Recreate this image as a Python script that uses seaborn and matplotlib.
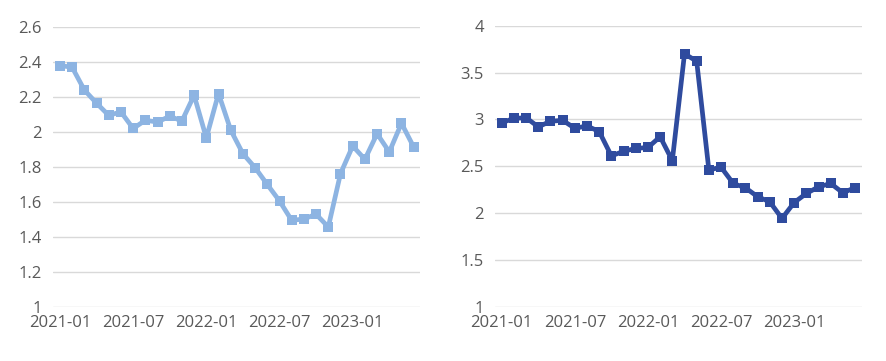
import pandas as pd
import seaborn as sns
import matplotlib.pyplot as plt

months = pd.date_range("2021-01-01", periods=30, freq="MS").strftime("%Y-%m").tolist()

left_vals = [2.38, 2.37, 2.24, 2.165, 2.095, 2.115, 2.02, 2.067, 2.057, 2.09,
             2.063, 2.21, 1.966, 2.22, 2.011, 1.876, 1.796, 1.70, 1.606, 1.495,
             1.503, 1.53, 1.457, 1.762, 1.92, 1.844, 1.99, 1.886, 2.05, 1.914]

right_vals = [2.965, 3.01, 3.018, 2.92, 2.98, 2.99, 2.905, 2.93, 2.87, 2.61,
              2.66, 2.69, 2.70, 2.815, 2.56, 3.70, 3.62, 2.46, 2.49, 2.316,
              2.27, 2.175, 2.12, 1.943, 2.113, 2.21, 2.28, 2.316, 2.216, 2.273]

tick_labels = ["2021-01", "2021-07", "2022-01", "2022-07", "2023-01"]

df = pd.DataFrame({"month": months, "left": left_vals, "right": right_vals})
df["pos"] = range(len(df))

sns.set_style("white")
plt.rcParams["font.family"] = ["Open Sans", "DejaVu Sans"]

fig = plt.figure(figsize=(8.86, 3.61), dpi=100)
ax1 = fig.add_axes([0.0598, 0.1496, 0.414, 0.7756])
ax2 = fig.add_axes([0.5587, 0.150, 0.414, 0.779])

panels = [
    (ax1, "left", "#8db4e2", (1, 2.6), [1, 1.2, 1.4, 1.6, 1.8, 2, 2.2, 2.4, 2.6], (-0.57, 29.5)),
    (ax2, "right", "#2f4b9e", (1, 4), [1, 1.5, 2, 2.5, 3, 3.5, 4], (-0.55, 29.55)),
]

for ax, col, color, ylim, yticks, xlim in panels:
    sns.lineplot(data=df, x="pos", y=col, ax=ax, color=color, linewidth=3.4,
                 marker="s", markersize=7.5, markeredgewidth=0, legend=False)
    ax.set_ylim(*ylim)
    ax.set_xlim(*xlim)
    ax.set_yticks(yticks)
    ax.set_yticklabels([f"{t:g}" for t in yticks])
    ax.set_xticks([months.index(t) for t in tick_labels])
    ax.set_xticklabels(tick_labels)
    ax.grid(axis="y", color="#d9d9d9", linewidth=1)
    ax.set_axisbelow(True)
    for s in ax.spines.values():
        s.set_visible(False)
    ax.tick_params(axis="both", length=0, labelsize=12, labelcolor="#595959")
    ax.tick_params(axis="y", pad=8)
    ax.tick_params(axis="x", pad=6)
    ax.set_xlabel("")
    ax.set_ylabel("")

fig.savefig("out.png", dpi=100)
